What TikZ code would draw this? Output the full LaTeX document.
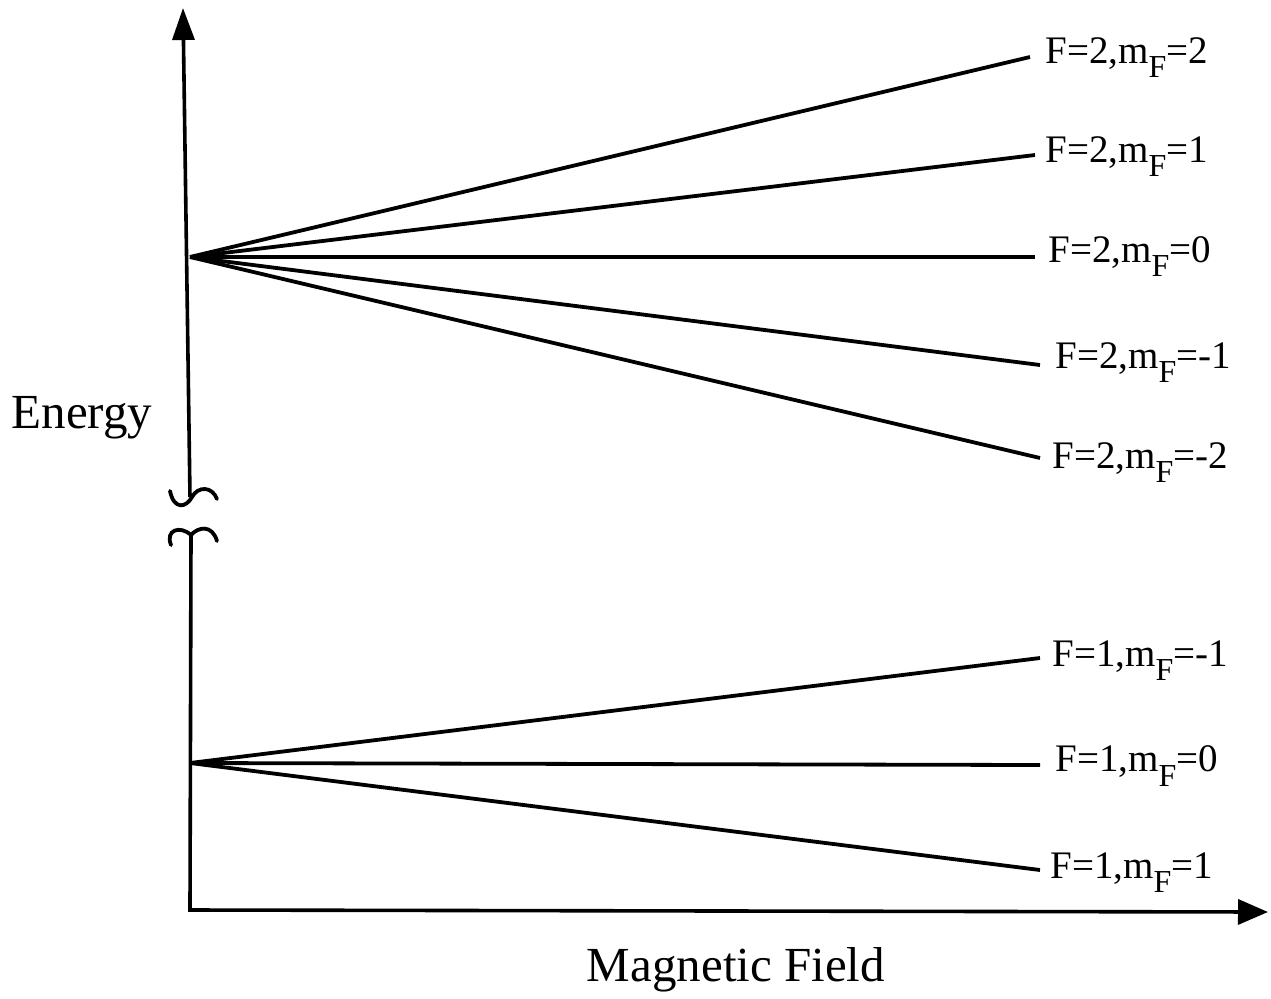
\documentclass[tikz,border=0pt]{standalone}
\usepackage{fontspec}
\setmainfont{Liberation Serif}
\usetikzlibrary{arrows.meta}
\newcommand{\mFsub}{m\raisebox{-0.36em}{\fontsize{16}{16}\selectfont F}}
\begin{document}
\begin{tikzpicture}[x=0.5pt,y=-0.5pt,
  axisline/.style={line width=1.8pt},
  level/.style={line width=1.9pt},
  brk/.style={line width=1.9pt, line cap=round},
  lab/.style={anchor=west, inner sep=0pt, font=\fontsize{19.5}{19.5}\selectfont},
  biglab/.style={inner sep=0pt, font=\fontsize{24.5}{24.5}\selectfont}]
\useasboundingbox (0,0) rectangle (1271,998);
% axes
\coordinate (ytop) at (183,8);
\coordinate (ybrk1) at (190,497);
\coordinate (ybrk2) at (191,535);
\coordinate (orig) at (190,910);
\coordinate (xend) at (1268,912);
\draw[axisline, -{Triangle[length=16pt,width=11pt]}] (ybrk1) -- (ytop);
\draw[axisline, -{Triangle[length=15pt,width=12.5pt]}] (ybrk2) -- (orig) -- (xend);
% break marks
\draw[brk] (170,491) .. controls (174,510) and (186,508) .. (192,497) .. controls (198,486) and (212,486) .. (217,499);
\draw[brk] (171,545) .. controls (165,530) and (180,525) .. (191,535) .. controls (198,527) and (212,524) .. (217,541);
% convergence points
\coordinate (o2) at (190,257);
\coordinate (o1) at (190,763);
% F=2 end points
\coordinate (e22) at (1030,57);
\coordinate (e21) at (1035,155);
\coordinate (e20) at (1035,257);
\coordinate (e2m1) at (1040,365);
\coordinate (e2m2) at (1040,458);
% F=1 end points
\coordinate (e1m1) at (1040,658);
\coordinate (e10) at (1040,765);
\coordinate (e11) at (1040,870);
\foreach \e in {e22,e21,e20,e2m1,e2m2} \draw[level] (o2) -- (\e);
\foreach \e in {e1m1,e10,e11} \draw[level] (o1) -- (\e);
% labels
\node[lab] (l22) at (1045,58) {F=2,\mFsub=2};
\node[lab] (l21) at (1045,157) {F=2,\mFsub=1};
\node[lab] (l20) at (1048,257) {F=2,\mFsub=0};
\node[lab] (l2m1) at (1055,363) {F=2,\mFsub=-1};
\node[lab] (l2m2) at (1052,463) {F=2,\mFsub=-2};
\node[lab] (l1m1) at (1052,661) {F=1,\mFsub=-1};
\node[lab] (l10) at (1055,766) {F=1,\mFsub=0};
\node[lab] (l11) at (1050,873) {F=1,\mFsub=1};
\node[biglab] (energy) at (82,418) {Energy};
\node[biglab] (field) at (736,970) {Magnetic Field};
\end{tikzpicture}
\end{document}
